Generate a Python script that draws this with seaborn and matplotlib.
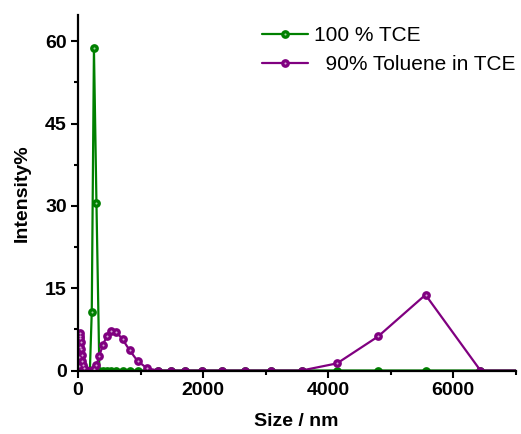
import matplotlib
matplotlib.use("Agg")
import matplotlib.pyplot as plt
import seaborn as sns
from matplotlib.lines import Line2D
from matplotlib.legend_handler import HandlerTuple
from matplotlib.ticker import MultipleLocator

# DLS size bins (nm)
sizes = [0.4, 0.4632, 0.5365, 0.6213, 0.7195, 0.8332, 0.9649, 1.117, 1.294, 1.499,
         1.736, 2.010, 2.328, 2.696, 3.122, 3.615, 4.187, 4.849, 5.615, 6.503,
         7.531, 8.721, 10.10, 11.70, 13.54, 15.69, 18.17, 21.04, 24.36, 28.21,
         32.67, 37.84, 43.82, 50.75, 58.77, 68.06, 78.82, 91.28, 105.7, 122.4,
         141.8, 164.2, 190.1, 220.2, 255.0, 295.3, 342.0, 396.1, 458.7, 531.2,
         615.1, 712.4, 825.0, 955.4, 1106, 1281, 1484, 1718, 1990, 2305,
         2669, 3091, 3580, 4145, 4801, 5560, 6439, 7456, 8635, 10000]

# Intensity (%) for 100 % TCE
tce = [0] * 43 + [10.7, 58.7, 30.5] + [0] * 24

# Intensity (%) for 90 % toluene in TCE
toluene = ([0] * 26 +
           [0.8, 2.4, 4.3, 6.0, 6.8, 6.3, 5.2, 3.9, 2.8, 1.8, 1.0, 0.4] +
           [0, 0, 0, 0, 0, 0, 0.3, 1.0] +
           [2.7, 4.6, 6.2, 7.2, 7.0, 5.7, 3.7, 1.7, 0.4] +
           [0, 0, 0, 0, 0, 0, 0, 0] +
           [1.3, 6.2, 13.8] +
           [0, 0, 0, 0])

labels = ["100 % TCE", "  90% Toluene in TCE"]
colors = ["#008000", "#800080"]
shine = ["#9ed49e", "#d7a8d7"]

sns.set_style("ticks")
plt.rcParams["font.family"] = ["Liberation Sans", "DejaVu Sans"]
plt.rcParams["text.color"] = "black"
plt.rcParams["axes.labelcolor"] = "black"

fig = plt.figure(figsize=(5.21, 4.34), dpi=100)
ax = fig.add_axes([78 / 521, (434 - 370.5) / 434, (515.5 - 78) / 521, (370.5 - 15) / 434])

handles = []
for i, series in enumerate([tce, toluene]):
    z = 2 + i * 0.2
    sns.lineplot(x=sizes, y=series, color=colors[i], marker="o", markersize=6.3,
                 markeredgewidth=0, linewidth=1.6, sort=False, ax=ax, zorder=z)
    sns.scatterplot(x=sizes, y=series, color=shine[i], s=2.2, linewidth=0,
                    ax=ax, zorder=z + 0.1)
    handles.append((Line2D([], [], color=colors[i], marker="o", markersize=6.3,
                           markeredgewidth=0, linewidth=1.6),
                    Line2D([], [], color=shine[i], marker="o", markersize=1.5,
                           markeredgewidth=0, linestyle="none")))

ax.set_xlim(0, 7000)
ax.set_ylim(0, 64.8)
ax.xaxis.set_major_locator(MultipleLocator(2000))
ax.xaxis.set_minor_locator(MultipleLocator(1000))
ax.yaxis.set_major_locator(MultipleLocator(15))
ax.yaxis.set_minor_locator(MultipleLocator(7.5))

for side in ["top", "right"]:
    ax.spines[side].set_visible(False)
for side in ["left", "bottom"]:
    ax.spines[side].set_linewidth(1.6)
    ax.spines[side].set_color("black")

ax.tick_params(which="major", direction="out", length=5, width=1.5, pad=3,
               labelsize=14, colors="black")
ax.tick_params(which="minor", direction="out", length=3, width=1.5, colors="black")
for lab in ax.get_xticklabels() + ax.get_yticklabels():
    lab.set_fontweight("bold")

ax.set_xlabel("Size / nm", fontsize=14, fontweight="bold", labelpad=10)
ax.set_ylabel("Intensity%", fontsize=14, fontweight="bold", labelpad=10)

ax.legend(handles, labels, handler_map={tuple: HandlerTuple(ndivide=1)},
          loc="upper left", bbox_to_anchor=(262 / 521, 1 - 26 / 434),
          bbox_transform=fig.transFigure, frameon=False, fontsize=15,
          handlelength=2.2, handletextpad=0.3, borderpad=0, borderaxespad=0,
          labelspacing=0.5)

fig.savefig("out.png", dpi=100)
